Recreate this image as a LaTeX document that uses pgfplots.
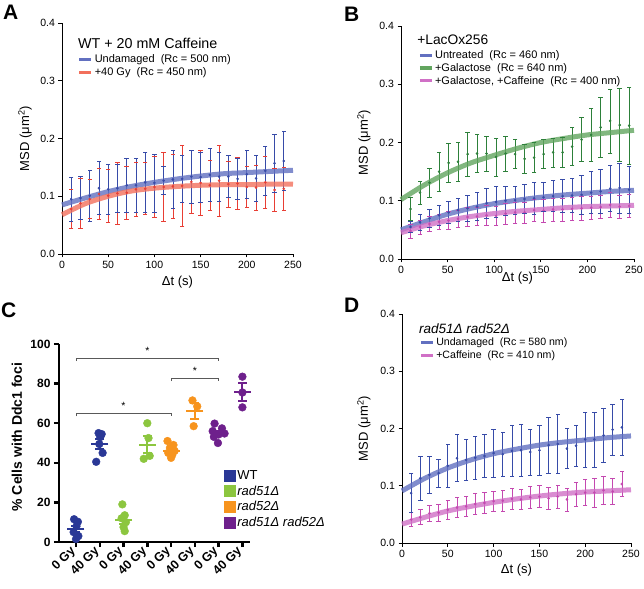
\documentclass[border=0pt]{standalone}
\usepackage{fontspec}
\setmainfont{Liberation Sans}
\usepackage{pgfplots}
\usepackage{pgfplotstable}
\pgfplotsset{compat=1.18}
\newcommand{\fs}[1]{\fontsize{#1bp}{#1bp}\selectfont}

\definecolor{fitblue}{RGB}{98,112,192}
\definecolor{barblue}{RGB}{55,75,168}
\definecolor{fitred}{RGB}{242,112,92}
\definecolor{barred}{RGB}{232,62,52}
\definecolor{fitgreen}{RGB}{98,165,95}
\definecolor{bargreen}{RGB}{45,128,58}
\definecolor{fitpink}{RGB}{208,112,198}
\definecolor{barpink}{RGB}{196,72,176}
\definecolor{cwt}{RGB}{42,56,150}
\definecolor{cr51}{RGB}{140,198,63}
\definecolor{cr52}{RGB}{247,148,30}
\definecolor{cdbl}{RGB}{110,32,140}

% ---------- Panel A ----------
\pgfplotstableread{
t y e
10 0.095 0.038
20 0.097 0.037
30 0.101 0.044
40 0.114 0.046
50 0.112 0.043
60 0.114 0.041
70 0.119 0.047
80 0.119 0.046
90 0.124 0.052
100 0.123 0.050
110 0.127 0.024
120 0.129 0.050
130 0.130 0.040
140 0.134 0.046
150 0.133 0.043
160 0.137 0.046
170 0.134 0.042
180 0.134 0.036
190 0.130 0.036
200 0.138 0.042
210 0.131 0.040
220 0.144 0.042
230 0.157 0.050
240 0.161 0.051
}\Ablue
\pgfplotstableread{
t y e
10 0.078 0.034
20 0.088 0.043
30 0.095 0.034
40 0.104 0.044
50 0.101 0.046
60 0.105 0.054
70 0.106 0.046
80 0.112 0.046
90 0.113 0.045
100 0.116 0.053
110 0.116 0.060
120 0.117 0.056
130 0.118 0.070
140 0.125 0.055
150 0.123 0.056
160 0.119 0.043
170 0.127 0.061
180 0.121 0.040
190 0.122 0.045
200 0.116 0.036
210 0.115 0.039
220 0.124 0.045
230 0.111 0.037
240 0.113 0.037
}\Ared
% ---------- Panel B ----------
\pgfplotstableread{
t y e
10.2 0.086 0.020
20.4 0.114 0.020
30.6 0.131 0.025
40.8 0.150 0.033
51.0 0.165 0.033
61.2 0.167 0.033
71.4 0.180 0.038
81.6 0.181 0.033
91.8 0.181 0.030
102.0 0.175 0.033
112.2 0.181 0.030
122.4 0.180 0.025
132.6 0.172 0.025
142.8 0.174 0.026
153.0 0.180 0.025
163.2 0.183 0.025
173.4 0.183 0.026
183.6 0.193 0.033
193.8 0.205 0.038
204.0 0.213 0.045
214.2 0.226 0.051
224.4 0.237 0.055
234.6 0.230 0.063
244.8 0.229 0.066
}\Bgreen
\pgfplotstableread{
t y e
10.2 0.055 0.010
20.4 0.063 0.013
30.6 0.070 0.016
40.8 0.075 0.017
51.0 0.080 0.019
61.2 0.084 0.020
71.4 0.087 0.022
81.6 0.090 0.024
91.8 0.096 0.026
102.0 0.098 0.026
112.2 0.100 0.025
122.4 0.101 0.024
132.6 0.103 0.025
142.8 0.104 0.027
153.0 0.106 0.025
163.2 0.108 0.027
173.4 0.108 0.028
183.6 0.109 0.029
193.8 0.110 0.033
204.0 0.114 0.036
214.2 0.116 0.038
224.4 0.121 0.040
234.6 0.122 0.043
244.8 0.119 0.040
}\Bblue
\pgfplotstableread{
t y e
10.2 0.048 0.012
20.4 0.055 0.012
30.6 0.060 0.013
40.8 0.064 0.013
51.0 0.066 0.015
61.2 0.069 0.015
71.4 0.072 0.016
81.6 0.073 0.016
91.8 0.075 0.017
102.0 0.074 0.017
112.2 0.078 0.018
122.4 0.080 0.018
132.6 0.080 0.018
142.8 0.084 0.019
153.0 0.083 0.020
163.2 0.085 0.020
173.4 0.085 0.020
183.6 0.086 0.020
193.8 0.087 0.020
204.0 0.088 0.020
214.2 0.089 0.020
224.4 0.093 0.022
234.6 0.090 0.020
244.8 0.091 0.020
}\Bpink
% ---------- Panel D ----------
\pgfplotstableread{
t y e
10 0.087 0.034
20 0.113 0.039
30 0.119 0.033
40 0.122 0.025
50 0.135 0.037
60 0.148 0.041
70 0.145 0.036
80 0.149 0.037
90 0.152 0.038
100 0.157 0.042
110 0.155 0.039
120 0.161 0.044
130 0.162 0.045
140 0.159 0.040
150 0.162 0.044
160 0.171 0.049
170 0.173 0.051
180 0.165 0.035
190 0.170 0.036
200 0.181 0.048
210 0.181 0.048
220 0.188 0.047
230 0.198 0.044
240 0.202 0.049
}\Dblue
\pgfplotstableread{
t y e
10 0.041 0.012
20 0.045 0.013
30 0.052 0.014
40 0.053 0.015
50 0.058 0.016
60 0.062 0.017
70 0.064 0.017
80 0.068 0.018
90 0.070 0.018
100 0.073 0.018
110 0.074 0.018
120 0.077 0.018
130 0.076 0.018
140 0.080 0.019
150 0.081 0.019
160 0.078 0.020
170 0.081 0.020
180 0.076 0.020
190 0.085 0.021
200 0.088 0.023
210 0.088 0.025
220 0.092 0.025
230 0.090 0.023
240 0.103 0.022
}\Dpink
% ---------- Panel C ----------
\pgfplotstableread{
x y
-0.08 11.5
0.08 10.2
0.02 8.0
-0.10 5.0
0.10 3.0
0.00 1.5
0.95 55.0
1.08 54.5
1.02 53.0
0.98 49.5
1.12 45.0
0.85 40.5
}\Cwt
\pgfplotstableread{
x y
1.95 19.0
2.05 13.5
1.92 12.0
2.10 10.0
2.00 7.5
2.05 5.5
3.00 60.0
3.05 52.5
2.85 42.0
3.10 43.5
}\Cra
\pgfplotstableread{
x y
3.85 51.0
4.10 49.0
3.95 47.5
4.15 46.0
3.88 45.0
4.05 44.0
4.00 42.5
4.90 71.5
5.10 68.5
4.95 58.5
}\Crb
\pgfplotstableread{
x y
5.83 59.8
6.14 57.4
5.75 56.0
6.00 54.3
6.25 54.8
5.80 53.1
5.97 50.0
7.00 83.5
7.00 75.5
7.00 68.0
}\Cdbl
% mean and SEM per group
\pgfplotstableread{
t y e
0 6.6 1.7
1 49.6 2.4
}\Mwt
\pgfplotstableread{
t y e
2 11.3 2.0
3 49.2 4.2
}\Mra
\pgfplotstableread{
t y e
4 46.1 1.1
5 66.2 3.9
}\Mrb
\pgfplotstableread{
t y e
6 55.1 1.2
7 75.7 4.4
}\Mdbl

\pgfplotsset{
  msd/.style={
    scale only axis, axis lines=left, axis line style={-, line width=0.8bp},
    xmin=0, xmax=250, ymin=0, ymax=0.4,
    xtick={0,50,100,150,200,250}, ytick={0,0.1,0.2,0.3,0.4},
    yticklabel style={/pgf/number format/fixed, /pgf/number format/fixed zerofill, /pgf/number format/precision=1},
    /pgf/number format/assume math mode=true,
    tick align=outside, major tick length=3.5bp, tick style={black, line width=0.8bp},
    ticklabel style={font=\fs{10.5}},
    label style={font=\fs{13}},
    xlabel={Δt (s)}, ylabel={MSD (μm\textsuperscript{2})},
    clip=false,
    legend image code/.code={\draw[#1, line width=3.2bp, opacity=1] (0bp,0bp) -- (12bp,0bp);},
    legend cell align=left,
    legend style={draw=none, fill=none, anchor=north west, font=\fs{11}, row sep=0bp, nodes={inner sep=1.7bp}},
  },
  ebar/.style={only marks, mark=*, mark size=1.1bp, color=#1, mark options={fill=#1, draw=#1}, forget plot,
    error bars/.cd, y dir=both, y explicit, error bar style={line width=0.65bp, color=#1}, error mark=none},
  caps/.style={only marks, mark=-, mark size=2.2bp, color=#1, mark options={line width=0.65bp}, forget plot},
  cdots/.style={only marks, mark=*, mark size=3.9bp, color=#1, mark options={fill=#1, draw=none}, forget plot},
  cmean/.style={only marks, mark=-, mark size=8.5bp, color=#1, mark options={line width=2bp}, forget plot,
    error bars/.cd, y dir=both, y explicit, error bar style={line width=2bp, color=#1}, error mark=none},
  ccaps/.style={only marks, mark=-, mark size=4.5bp, color=#1, mark options={line width=2bp}, forget plot},
}
% error bars with caps drawn from the same table
\newcommand{\ebars}[2]{%
  \addplot[ebar=#1] table[x=t,y=y,y error=e]{#2};
  \addplot[caps=#1] table[x=t,y expr=\thisrow{y}+\thisrow{e}]{#2};
  \addplot[caps=#1] table[x=t,y expr=\thisrow{y}-\thisrow{e}]{#2};
}
\newcommand{\cmeans}[2]{%
  \addplot[cmean=#1] table[x=t,y=y,y error=e]{#2};
  \addplot[ccaps=#1] table[x=t,y expr=\thisrow{y}+\thisrow{e}]{#2};
  \addplot[ccaps=#1] table[x=t,y expr=\thisrow{y}-\thisrow{e}]{#2};
}

\begin{document}
\begin{tikzpicture}

% ---------------- A ----------------
\begin{axis}[msd, at={(62bp,335bp)}, anchor=south west, width=231bp, height=231bp,
  ylabel style={at={(axis description cs:-0.16,0.5)}, anchor=center},
  xlabel style={at={(axis description cs:0.5,-0.121)}, anchor=center},
  legend style={at={(axis description cs:0.055,0.88)}}]
\ebars{barred}{\Ared}
\ebars{barblue}{\Ablue}
\addplot[smooth, line width=5bp, fitblue, opacity=0.8] coordinates {(0,0.085)(25,0.097)(50,0.108)(75,0.117)(100,0.124)(125,0.130)(150,0.135)(175,0.139)(200,0.141)(225,0.143)(250,0.145)};
\addlegendentry{Undamaged\ \ (Rc = 500 nm)}
\addplot[smooth, line width=5bp, fitred, opacity=0.8] coordinates {(0,0.068)(25,0.087)(50,0.100)(75,0.109)(100,0.114)(125,0.117)(150,0.119)(175,0.120)(200,0.120)(225,0.121)(250,0.121)};
\addlegendentry{+40 Gy\ \ (Rc = 450 nm)}
\node[anchor=west, inner sep=0, font=\fs{14.3}] at (axis description cs:0.069,0.913) {WT + 20 mM Caffeine};
\end{axis}

% ---------------- B ----------------
\begin{axis}[msd, at={(401bp,330bp)}, anchor=south west, width=233bp, height=233bp,
  ylabel style={at={(axis description cs:-0.159,0.5)}, anchor=center},
  xlabel style={at={(axis description cs:0.5,-0.08)}, anchor=center},
  legend style={at={(axis description cs:0.06,0.912)}}]
\ebars{bargreen}{\Bgreen}
\ebars{barpink}{\Bpink}
\ebars{barblue}{\Bblue}
\addplot[smooth, line width=5bp, fitblue, opacity=0.8] coordinates {(0,0.050)(25,0.064)(50,0.077)(75,0.087)(100,0.095)(125,0.101)(150,0.106)(175,0.110)(200,0.113)(225,0.116)(250,0.118)};
\addlegendentry{Untreated\ \ (Rc = 460 nm)}
\addplot[smooth, line width=5bp, fitgreen, opacity=0.8] coordinates {(0,0.102)(25,0.127)(50,0.148)(75,0.165)(100,0.178)(125,0.190)(150,0.200)(175,0.207)(200,0.213)(225,0.217)(250,0.221)};
\addlegendentry{+Galactose\ \ (Rc = 640 nm)}
\addplot[smooth, line width=5bp, fitpink, opacity=0.8] coordinates {(0,0.045)(25,0.057)(50,0.066)(75,0.073)(100,0.078)(125,0.082)(150,0.085)(175,0.088)(200,0.090)(225,0.091)(250,0.092)};
\addlegendentry{+Galactose, +Caffeine\ \ (Rc = 400 nm)}
\node[anchor=west, inner sep=0, font=\fs{13.8}] at (axis description cs:0.069,0.94) {+LacOx256};
\end{axis}

% ---------------- D ----------------
\begin{axis}[msd, at={(402bp,46bp)}, anchor=south west, width=229bp, height=229bp,
  ylabel style={at={(axis description cs:-0.166,0.5)}, anchor=center},
  xlabel style={at={(axis description cs:0.5,-0.118)}, anchor=center},
  legend style={at={(axis description cs:0.062,0.912)}, font=\fs{10.6}}]
\ebars{barpink}{\Dpink}
\ebars{barblue}{\Dblue}
\addplot[smooth, line width=5bp, fitblue, opacity=0.8] coordinates {(0,0.091)(25,0.113)(50,0.131)(75,0.145)(100,0.156)(125,0.164)(150,0.171)(175,0.176)(200,0.180)(225,0.184)(250,0.187)};
\addlegendentry{Undamaged\ \ (Rc = 580 nm)}
\addplot[smooth, line width=5bp, fitpink, opacity=0.8] coordinates {(0,0.033)(25,0.045)(50,0.056)(75,0.064)(100,0.071)(125,0.077)(150,0.082)(175,0.086)(200,0.089)(225,0.091)(250,0.093)};
\addlegendentry{+Caffeine\ \ (Rc = 410 nm)}
\node[anchor=west, inner sep=0, font=\itshape\fs{13.5}] at (axis description cs:0.074,0.935) {rad51Δ rad52Δ};
\end{axis}

% ---------------- C ----------------
\begin{axis}[at={(59bp,47bp)}, anchor=south west, scale only axis, width=191bp, height=198bp,
  axis lines=left, axis line style={-, line width=2.5bp},
  xmin=-0.715, xmax=7.32, ymin=0, ymax=100,
  xtick={0,1,2,3,4,5,6,7},
  xticklabels={0 Gy,40 Gy,0 Gy,40 Gy,0 Gy,40 Gy,0 Gy,40 Gy},
  ytick={0,20,40,60,80,100},
  /pgf/number format/assume math mode=true,
  tick align=outside, major tick length=5bp, tick style={black, line width=2.5bp},
  yticklabel style={font=\bfseries\fs{12}},
  xticklabel style={font=\bfseries\fs{12.5}, rotate=45, anchor=east},
  ylabel={\% Cells with Ddc1 foci},
  ylabel style={font=\bfseries\fs{14}, at={(axis description cs:-0.22,0.53)}, anchor=center},
  clip=false,
  legend image code/.code={\fill[#1] (0bp,-5.5bp) rectangle (11bp,5.5bp);},
  legend cell align=left,
  legend style={draw=none, fill=none, at={(axis description cs:0.845,0.385)}, anchor=north west,
    font=\fs{13}, row sep=0bp, nodes={inner sep=2.4bp}}]
\addplot[cdots=cwt] table[x=x,y=y]{\Cwt};
\addplot[cdots=cr51] table[x=x,y=y]{\Cra};
\addplot[cdots=cr52] table[x=x,y=y]{\Crb};
\addplot[cdots=cdbl] table[x=x,y=y]{\Cdbl};
\cmeans{cwt}{\Mwt}
\cmeans{cr51}{\Mra}
\cmeans{cr52}{\Mrb}
\cmeans{cdbl}{\Mdbl}
\addplot[black!65, line width=0.9bp, forget plot] coordinates {(0,91.3)(0,92.8)(6,92.8)(6,91.3)};
\addplot[black!65, line width=0.9bp, forget plot] coordinates {(4,81.3)(4,82.8)(6,82.8)(6,81.3)};
\addplot[black!65, line width=0.9bp, forget plot] coordinates {(0,63.5)(0,65.0)(4,65.0)(4,63.5)};
\node[font=\fs{10.5}, inner sep=0] at (axis cs:3,96.5) {*};
\node[font=\fs{10.5}, inner sep=0] at (axis cs:5,86.5) {*};
\node[font=\fs{10.5}, inner sep=0] at (axis cs:2,68.7) {*};
\addlegendimage{cwt}\addlegendentry{WT}
\addlegendimage{cr51}\addlegendentry{\textit{rad51Δ}}
\addlegendimage{cr52}\addlegendentry{\textit{rad52Δ}}
\addlegendimage{cdbl}\addlegendentry{\textit{rad51Δ rad52Δ}}
\end{axis}

% Panel letters
\node[anchor=north west, inner sep=0, font=\bfseries\fs{21}] at (3bp,584bp) {A};
\node[anchor=north west, inner sep=0, font=\bfseries\fs{21}] at (344bp,582bp) {B};
\node[anchor=north west, inner sep=0, font=\bfseries\fs{21}] at (1bp,286bp) {C};
\node[anchor=north west, inner sep=0, font=\bfseries\fs{21}] at (344bp,291bp) {D};

\pgfresetboundingbox
\path[use as bounding box] (0bp,0bp) rectangle (644bp,589bp);
\end{tikzpicture}
\end{document}
